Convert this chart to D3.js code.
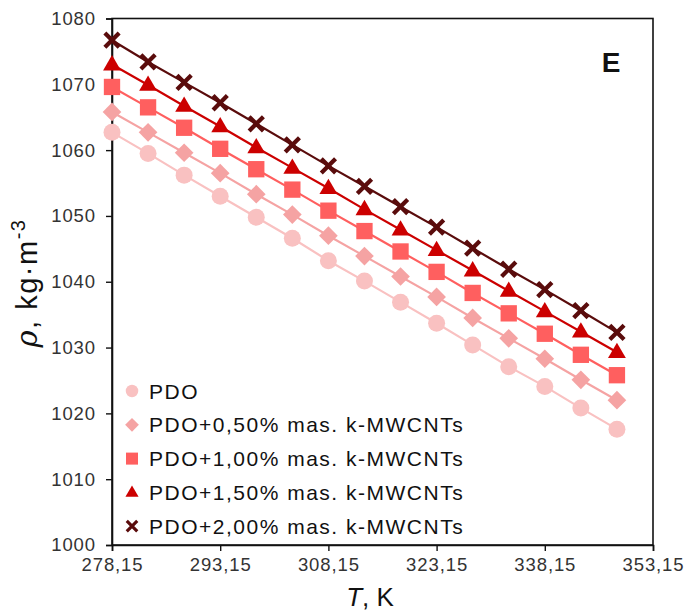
<!DOCTYPE html>
<html>
<head>
<meta charset="utf-8">
<script src="https://cdn.jsdelivr.net/npm/d3@7"></script>
<style>
  html, body { margin: 0; padding: 0; background: #fff; }
  svg { display: block; }
  text { font-family: "Liberation Sans", Arial, sans-serif; }
</style>
</head>
<body>
<script>
// Density of PDO and PDO + k-MWCNTs suspensions vs temperature
const temperatures = [278.15, 283.15, 288.15, 293.15, 298.15, 303.15, 308.15, 313.15,
                      318.15, 323.15, 328.15, 333.15, 338.15, 343.15, 348.15];

const seriesNames = [
  "PDO",
  "PDO+0,50% mas. k-MWCNTs",
  "PDO+1,00% mas. k-MWCNTs",
  "PDO+1,50% mas. k-MWCNTs",
  "PDO+2,00% mas. k-MWCNTs"
];

const rhoPDO = [1062.7, 1059.5, 1056.2, 1053.0, 1049.8, 1046.6, 1043.2, 1040.1,
                1036.9, 1033.7, 1030.4, 1027.1, 1024.1, 1020.8, 1017.6];
const rho050 = [1065.8, 1062.7, 1059.6, 1056.5, 1053.3, 1050.2, 1047.0, 1043.9,
                1040.8, 1037.7, 1034.5, 1031.4, 1028.3, 1025.1, 1022.0];
const rho100 = [1069.6, 1066.5, 1063.4, 1060.2, 1057.1, 1054.0, 1050.8, 1047.7,
                1044.6, 1041.5, 1038.3, 1035.2, 1032.1, 1028.9, 1025.8];
const rho150 = [1073.0, 1069.9, 1066.7, 1063.6, 1060.4, 1057.3, 1054.2, 1051.0,
                1047.9, 1044.8, 1041.7, 1038.6, 1035.5, 1032.4, 1029.3];
const rho200 = [1076.7, 1073.4, 1070.3, 1067.2, 1064.0, 1060.8, 1057.6, 1054.5,
                1051.4, 1048.3, 1045.1, 1041.9, 1038.8, 1035.6, 1032.3];

const xTicks = [278.15, 293.15, 308.15, 323.15, 338.15, 353.15];
const xTickLabels = ["278,15", "293,15", "308,15", "323,15", "338,15", "353,15"];
const yTicks = [1000, 1010, 1020, 1030, 1040, 1050, 1060, 1070, 1080];

const colors = ["#f9c1c1", "#f5a3a3", "#ff5f5f", "#cc0000", "#5a0c0c"];
const shapes = ["circle", "diamond", "square", "triangle", "cross"];
const seriesValues = [rhoPDO, rho050, rho100, rho150, rho200];

const W = 687, H = 612;
const margin = { left: 112, right: 34, top: 18.5, bottom: 67 };

const svg = d3.select("body").append("svg")
  .attr("width", W).attr("height", H);

const x = d3.scaleLinear().domain([278.15, 353.15]).range([margin.left, W - margin.right]);
const y = d3.scaleLinear().domain([1000, 1080]).range([H - margin.bottom, margin.top]);

// plot frame
svg.append("rect")
  .attr("x", x.range()[0]).attr("y", y.range()[1])
  .attr("width", x.range()[1] - x.range()[0])
  .attr("height", y.range()[0] - y.range()[1])
  .attr("fill", "none").attr("stroke", "#111").attr("stroke-width", 1.6);

// axes
const xAxis = svg.append("g")
  .attr("transform", `translate(0,${y.range()[0]})`)
  .call(d3.axisBottom(x).tickValues(xTicks)
        .tickFormat((d, i) => xTickLabels[i]).tickSize(6).tickPadding(7));
const yAxis = svg.append("g")
  .attr("transform", `translate(${x.range()[0]},0)`)
  .call(d3.axisLeft(y).tickValues(yTicks).tickFormat(d3.format("d"))
        .tickSize(6).tickPadding(10));

[xAxis, yAxis].forEach(g => {
  g.select(".domain").attr("stroke", "#111").attr("stroke-width", 1.6);
  g.selectAll(".tick line").attr("stroke", "#111").attr("stroke-width", 1.4);
  g.selectAll(".tick text")
    .attr("font-family", "Liberation Sans, Arial, sans-serif")
    .attr("font-size", 18.5).attr("letter-spacing", 0.9).attr("fill", "#333");
});

// marker symbols
function drawMarker(g, shape, color, size) {
  const s = size;
  if (shape === "circle") {
    g.append("circle").attr("r", s * 0.5).attr("fill", color);
  } else if (shape === "diamond") {
    const r = s * 0.55;
    g.append("path").attr("d", `M0,${-r}L${r},0L0,${r}L${-r},0Z`).attr("fill", color);
  } else if (shape === "square") {
    const a = s * 0.96;
    g.append("rect").attr("x", -a / 2).attr("y", -a / 2)
      .attr("width", a).attr("height", a).attr("fill", color);
  } else if (shape === "triangle") {
    const h = s * 0.9, w = s * 1.05;
    g.append("path").attr("d", `M0,${-h * 0.62}L${w / 2},${h * 0.38}L${-w / 2},${h * 0.38}Z`)
      .attr("fill", color);
  } else if (shape === "cross") {
    const r = s * 0.42;
    g.append("path").attr("d", `M${-r},${-r}L${r},${r}M${-r},${r}L${r},${-r}`)
      .attr("stroke", color).attr("stroke-width", s * 0.25).attr("fill", "none");
  }
}

const line = d3.line().x(d => x(d[0])).y(d => y(d[1]));

seriesValues.forEach((vals, si) => {
  const pts = temperatures.map((t, i) => [t, vals[i]]);
  const g = svg.append("g");
  g.append("path").datum(pts).attr("d", line)
    .attr("fill", "none").attr("stroke", colors[si]).attr("stroke-width", 2.2);
  pts.forEach(p => {
    const m = g.append("g").attr("transform", `translate(${x(p[0])},${y(p[1])})`);
    drawMarker(m, shapes[si], colors[si], 17);
  });
});

// legend
const legend = svg.append("g");
seriesNames.forEach((name, i) => {
  const ly = 391 + i * 33.8;
  const m = legend.append("g").attr("transform", `translate(132,${ly})`);
  drawMarker(m, shapes[i], colors[i], 12.5);
  legend.append("text").attr("x", 149).attr("y", ly).attr("dy", "0.36em")
    .attr("font-size", 21).attr("letter-spacing", 1.5).attr("fill", "#111").text(name);
});

// panel letter
svg.append("text").attr("x", 611).attr("y", 62).attr("dy", "0.36em")
  .attr("text-anchor", "middle").attr("font-size", 28).attr("font-weight", "bold")
  .attr("fill", "#111").text("E");

// axis titles
const xt = svg.append("text").attr("x", 370).attr("y", 606)
  .attr("text-anchor", "middle").attr("font-size", 26).attr("fill", "#111");
xt.append("tspan").attr("font-style", "italic").text("T");
xt.append("tspan").text(", K");

const yt = svg.append("text")
  .attr("transform", "translate(37,283) rotate(-90)")
  .attr("text-anchor", "middle").attr("font-size", 29).attr("letter-spacing", 1.5)
  .attr("fill", "#111");
yt.append("tspan").attr("font-style", "italic").attr("font-family", "DejaVu Serif, serif").text("ρ");
yt.append("tspan").text(", kg·m");
yt.append("tspan").attr("font-size", 20).attr("dy", -12).text("-3");
</script>
</body>
</html>
